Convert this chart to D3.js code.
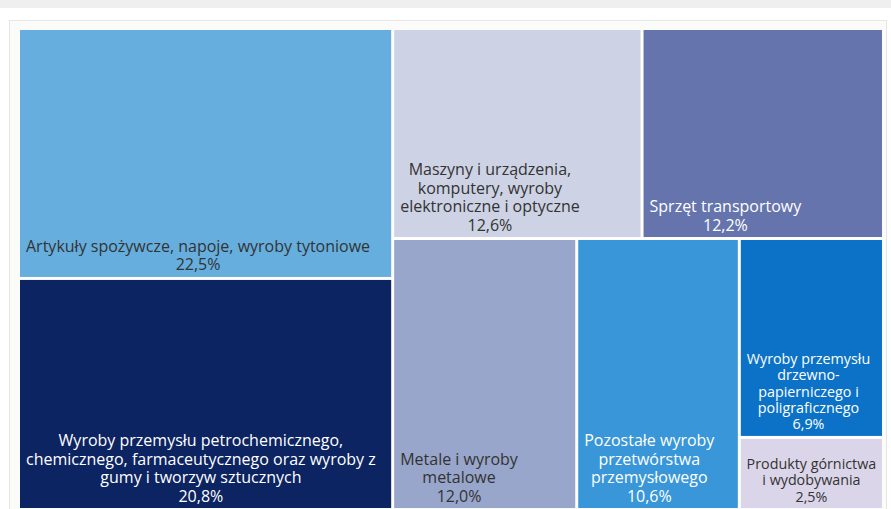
<!DOCTYPE html>
<html>
<head>
<meta charset="utf-8">
<script src="https://cdn.jsdelivr.net/npm/d3@7"></script>
<style>
  html, body { margin: 0; padding: 0; background: #ffffff; }
  svg { display: block; }
</style>
</head>
<body>
<svg id="chart" width="891" height="509"></svg>
<script>
// Shares of sectors (percent)
const categories = [
  "Artykuły spożywcze, napoje, wyroby tytoniowe",
  "Wyroby przemysłu petrochemicznego, chemicznego, farmaceutycznego oraz wyroby z gumy i tworzyw sztucznych",
  "Maszyny i urządzenia, komputery, wyroby elektroniczne i optyczne",
  "Sprzęt transportowy",
  "Metale i wyroby metalowe",
  "Pozostałe wyroby przetwórstwa przemysłowego",
  "Wyroby przemysłu drzewno-papierniczego i poligraficznego",
  "Produkty górnictwa i wydobywania"
];
const shares = [22.5, 20.8, 12.6, 12.2, 12.0, 10.6, 6.9, 2.5];
const shareLabels = ["22,5%", "20,8%", "12,6%", "12,2%", "12,0%", "10,6%", "6,9%", "2,5%"];
const labelLines = [
  ["Artykuły spożywcze, napoje, wyroby tytoniowe"],
  ["Wyroby przemysłu petrochemicznego,", "chemicznego, farmaceutycznego oraz wyroby z", "gumy i tworzyw sztucznych"],
  ["Maszyny i urządzenia,", "komputery, wyroby", "elektroniczne i optyczne"],
  ["Sprzęt transportowy"],
  ["Metale i wyroby", "metalowe"],
  ["Pozostałe wyroby", "przetwórstwa", "przemysłowego"],
  ["Wyroby przemysłu", "drzewno-", "papierniczego i", "poligraficznego"],
  ["Produkty górnictwa", "i wydobywania"]
];
const colors = ["#66aede", "#0c2461", "#cdd2e4", "#6574ad", "#98a6cb", "#3896d9", "#0b72c7", "#dbd5e9"];
const textColors = ["#333333", "#ffffff", "#333333", "#ffffff", "#333333", "#ffffff", "#ffffff", "#333333"];

// Nesting of the tiles (indices into the arrays above)
const groups = [[0, 1], [[2, 3], [4, 5, [6, 7]]]];

const svg = d3.select("#chart");
const W = 891, H = 509;

// Page chrome: grey strip on top and a light framed panel
svg.append("rect").attr("x", 0).attr("y", 0).attr("width", W).attr("height", 8).attr("fill", "#efefef");
svg.append("rect").attr("x", 9.5).attr("y", 20.5).attr("width", 877).attr("height", 500)
  .attr("fill", "#fbfbfa").attr("stroke", "#e6e6e6");

const box = { x: 20, y: 30, w: 862, h: 478 };

function build(node) {
  if (Array.isArray(node)) return { children: node.map(build) };
  return { index: node, value: shares[node] };
}

const root = d3.hierarchy(build(groups)).sum(d => d.value || 0);
d3.treemap().tile(d3.treemapSliceDice).size([box.w, box.h]).paddingInner(3)(root);

const g = svg.append("g").attr("transform", `translate(${box.x},${box.y})`);
// white gaps between tiles
g.append("rect").attr("width", box.w).attr("height", box.h).attr("fill", "#ffffff");

const leaves = g.selectAll("g.leaf").data(root.leaves()).join("g").attr("class", "leaf");

leaves.append("rect")
  .attr("x", d => d.x0).attr("y", d => d.y0)
  .attr("width", d => d.x1 - d.x0).attr("height", d => d.y1 - d.y0)
  .attr("fill", d => colors[d.data.index]);

// label typography; the narrow right-hand column uses a smaller size
const baseFont = 16, lineRatio = 1.15, padX = 6, padBottom = 6.5;
const narrowFont = 14.3, narrowTiles = new Set([6, 7]);

leaves.each(function(d) {
  const i = d.data.index;
  const fs = narrowTiles.has(i) ? narrowFont : baseFont;
  const lineH = fs * lineRatio;
  const lines = labelLines[i].concat([shareLabels[i]]);
  const t = d3.select(this).append("text")
    .attr("font-family", "'Open Sans', 'Noto Sans', sans-serif")
    .attr("font-size", fs)
    .attr("fill", textColors[i])
    .attr("text-anchor", "middle");
  const spans = lines.map((s, k) => t.append("tspan").text(s)
    .attr("y", d.y1 - padBottom - (lines.length - 1 - k) * lineH));
  // block is left-aligned in the tile, lines centred within the block
  const widest = d3.max(spans, s => s.node().getComputedTextLength());
  const avail = d.x1 - d.x0;
  const cx = widest + 2 * padX > avail ? (d.x0 + d.x1) / 2 : d.x0 + padX + widest / 2;
  spans.forEach(s => s.attr("x", cx));
});
</script>
</body>
</html>
